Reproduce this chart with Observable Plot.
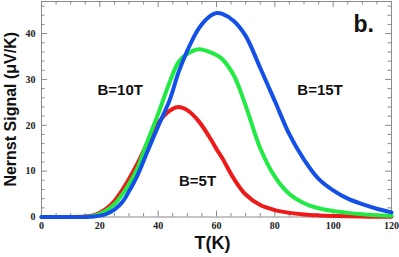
<!DOCTYPE html>
<html><head><meta charset="utf-8">
<script src="https://cdn.jsdelivr.net/npm/d3@7"></script>
<script src="https://cdn.jsdelivr.net/npm/@observablehq/plot@0.6"></script>
<style>body{margin:0;background:#fff}</style>
</head><body><div id="chart"></div>
<script>
const temps     = [0, 10, 15, 18, 20, 22, 25, 28, 30, 33, 36, 40, 44, 47, 50, 54, 58, 60, 62, 66, 70, 75, 80, 85, 90, 95, 100, 105, 110, 115, 120];
const signal5T  = [0, 0, 0.1, 0.4, 0.9, 1.7, 3.5, 6.2, 8.3, 11.8, 15.7, 20.5, 23.2, 24, 23.3, 20.8, 17, 14.8, 12.8, 8.3, 4.9, 2.6, 1.5, 0.9, 0.55, 0.35, 0.22, 0.14, 0.09, 0.06, 0.04];
const signal10T = [0, 0, 0.05, 0.3, 0.7, 1.3, 2.8, 5.2, 7.2, 10.8, 16, 22.5, 29.5, 33.8, 35.6, 36.6, 35.9, 35.3, 34.4, 30.8, 24.3, 15, 8.8, 5, 3, 1.9, 1.3, 0.9, 0.6, 0.4, 0.25];
const signal15T = [0, 0, 0, 0.1, 0.3, 0.6, 1.6, 3.5, 5.6, 9.2, 13.8, 19.8, 25.6, 31.6, 36.3, 41.2, 43.9, 44.5, 44.3, 42.7, 39.5, 32.5, 25.3, 18, 12.5, 8.3, 5.8, 4, 2.8, 1.8, 1.0];
const seriesNames  = ["B=5T", "B=10T", "B=15T"];
const seriesValues = [signal5T, signal10T, signal15T];
const seriesColors = ["#ee1a1a", "#22ea44", "#1450e8"];
const xMajorTicks = [0, 20, 40, 60, 80, 100, 120];
const xMinorTicks = [5, 10, 15, 25, 30, 35, 45, 50, 55, 65, 70, 75, 85, 90, 95, 105, 110, 115];
const yMajorTicks = [0, 10, 20, 30, 40];
const yMinorTicks = [2, 4, 6, 8, 12, 14, 16, 18, 22, 24, 26, 28, 32, 34, 36, 38, 42, 44, 46];
const annotationText = ["B=10T", "B=15T", "B=5T"];
const annotationT    = [27, 95.5, 53.5];
const annotationV    = [27.7, 27.7, 7.9];
const panelLabel = "b.";
const panelT = [110.5];
const panelV = [42];
const xLabel = "T(K)";
const yLabel = "Nernst Signal (μV/K)";

const rows = [];
seriesNames.forEach((name, i) => temps.forEach((t, j) => rows.push({series: name, T: t, v: seriesValues[i][j]})));

const W = 399, H = 257, mT = 1, mB = 40.5, mL = 41, mR = 8;
const innerH = H - mT - mB, innerW = W - mL - mR;
const tickColor = "#8a8a8a";
const serif = "'Liberation Serif', 'DejaVu Serif', serif";
const sans = "'Liberation Sans', Arial, sans-serif";

const plot = Plot.plot({
  width: W, height: H,
  marginTop: mT, marginBottom: mB, marginLeft: mL, marginRight: mR,
  x: {domain: [0, 120]},
  y: {domain: [0, 47]},
  color: {domain: seriesNames, range: seriesColors},
  style: {background: "#fff"},
  marks: [
    Plot.frame({stroke: tickColor, strokeWidth: 1}),
    Plot.ruleX(xMajorTicks, {stroke: tickColor, insetTop: innerH - 6}),
    Plot.ruleX(xMajorTicks, {stroke: tickColor, insetBottom: innerH - 6}),
    Plot.ruleX(xMinorTicks, {stroke: tickColor, insetTop: innerH - 3.5}),
    Plot.ruleX(xMinorTicks, {stroke: tickColor, insetBottom: innerH - 3.5}),
    Plot.ruleY(yMajorTicks, {stroke: tickColor, insetRight: innerW - 6}),
    Plot.ruleY(yMajorTicks, {stroke: tickColor, insetLeft: innerW - 6}),
    Plot.ruleY(yMinorTicks, {stroke: tickColor, insetRight: innerW - 3.5}),
    Plot.ruleY(yMinorTicks, {stroke: tickColor, insetLeft: innerW - 3.5}),
    Plot.axisX(xMajorTicks, {tickSize: 0, tickPadding: 5, fontSize: 10, fontFamily: serif, fontWeight: "bold", fill: "#222", label: null}),
    Plot.axisY(yMajorTicks, {tickSize: 0, tickPadding: 6, fontSize: 10, fontFamily: serif, fontWeight: "bold", fill: "#222", label: null}),
    Plot.line(rows, {x: "T", y: "v", z: "series", stroke: "series", strokeWidth: 4, curve: "catmull-rom"}),
    Plot.text(annotationText, {x: (d, i) => annotationT[i], y: (d, i) => annotationV[i], text: d => d, fontSize: 15, fontWeight: "bold", fontFamily: sans, fill: "#111"}),
    Plot.text([panelLabel], {x: panelT, y: panelV, text: d => d, fontSize: 23, fontWeight: "bold", fontFamily: sans, fill: "#111"}),
    Plot.text([xLabel], {frameAnchor: "bottom", dx: -4, dy: 32, text: d => d, fontSize: 18, fontWeight: "bold", fontFamily: sans, fill: "#111"}),
    Plot.text([yLabel], {frameAnchor: "left", textAnchor: "middle", rotate: -90, dx: -31, dy: 0, text: d => d, fontSize: 16, fontWeight: "bold", fontFamily: sans, fill: "#111"})
  ]
});
document.getElementById("chart").appendChild(plot);
</script>
</body></html>
